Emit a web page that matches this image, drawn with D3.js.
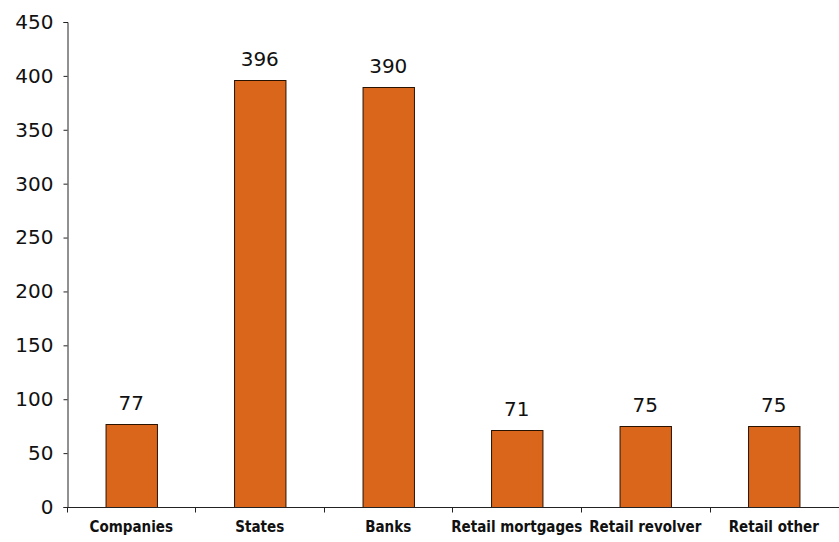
<!DOCTYPE html>
<html><head><meta charset="utf-8">
<script src="https://cdn.jsdelivr.net/npm/d3@7"></script>
<style>body{margin:0;background:#fff}svg{display:block}</style>
</head><body>
<svg id="c" width="839" height="542"></svg>
<script>
const categories = ["Companies","States","Banks","Retail mortgages","Retail revolver","Retail other"];
const values = [77, 396, 390, 71, 75, 75];
const yTicks = [0,50,100,150,200,250,300,350,400,450];

const svg = d3.select("#c");
const m = {left:67, right:1, top:22, bottom:35};
const W = 839, H = 542;
const x = d3.scaleBand().domain(categories).range([m.left, W - m.right]).paddingInner(0.6).paddingOuter(0.3);
const y = d3.scaleLinear().domain([0,450]).range([H - m.bottom, m.top]);

const font = "'DejaVu Sans', Verdana, sans-serif";

// bars
svg.selectAll("rect.bar").data(values).join("rect")
  .attr("class","bar")
  .attr("x",(d,i)=>x(categories[i])+0.5)
  .attr("y",d=>Math.round(y(d))+0.5)
  .attr("width",x.bandwidth())
  .attr("height",d=>y(0)-Math.round(y(d)))
  .attr("fill","#D9661A").attr("stroke","#2a1200").attr("stroke-width",1);

// value labels
svg.selectAll("text.val").data(values).join("text")
  .attr("class","val")
  .attr("x",(d,i)=>x(categories[i])+x.bandwidth()/2)
  .attr("y",d=>y(d)-14)
  .attr("text-anchor","middle")
  .attr("font-family",font).attr("font-size",20).attr("fill","#111")
  .text(d=>d);

// y axis
const ya = svg.append("g").attr("transform",`translate(${m.left+0.5},0)`)
  .call(d3.axisLeft(y).tickValues(yTicks).tickSize(4).tickPadding(10));
ya.select(".domain").attr("stroke","#222");
ya.selectAll(".tick line").attr("stroke","#222");
ya.selectAll(".tick text").attr("font-family",font).attr("font-size",20).attr("fill","#111");

// x axis
const xa = svg.append("g").attr("transform",`translate(0,${y(0)+0.5})`);
xa.append("line").attr("x1",m.left).attr("x2",W).attr("stroke","#222");
const step = x.step();
const boundaries = categories.map((c,i)=>x(c) - x.paddingOuter()*step);
xa.selectAll("line.t").data(boundaries).join("line").attr("class","t")
  .attr("x1",d=>Math.round(d)+0.5).attr("x2",d=>Math.round(d)+0.5).attr("y1",0).attr("y2",5).attr("stroke","#222");
xa.selectAll("text.cat").data(categories).join("text").attr("class","cat")
  .attr("x",c=>x(c)+x.bandwidth()/2)
  .attr("y",24)
  .attr("text-anchor","middle")
  .attr("font-family","'DejaVu Sans Condensed', 'DejaVu Sans', sans-serif")
  .attr("font-weight","bold").attr("font-size",15).attr("fill","#111")
  .text(c=>c);
</script>
</body></html>
